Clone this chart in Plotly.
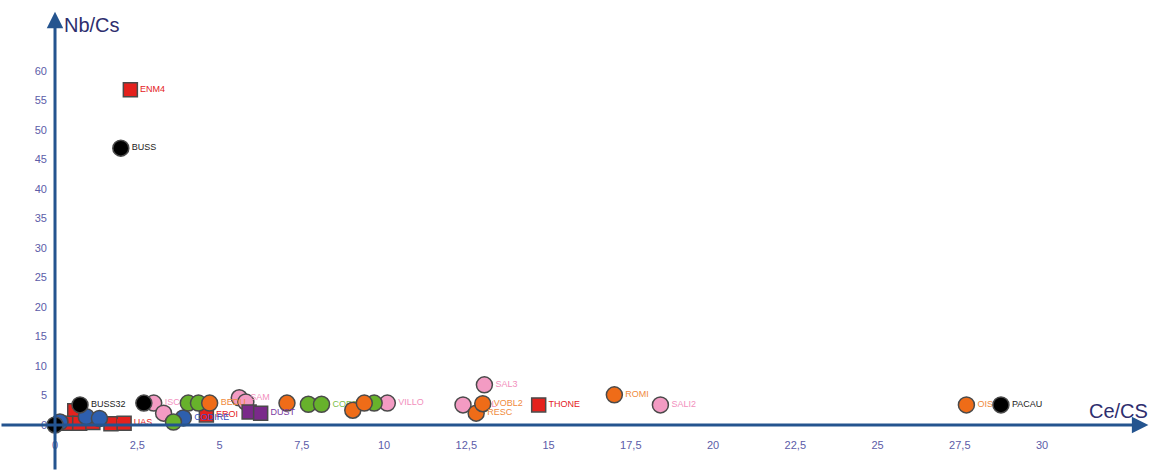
import plotly.graph_objects as go

# Ce/Cs (x) and Nb/Cs (y) ratios, one group per symbol colour
black_x = [0.0, 0.76, 2.0, 2.7, 28.75]
black_y = [0.0, 3.4, 46.9, 3.7, 3.4]
black_lab = ["", "BUSS32", "BUSS", "", "PACAU"]

red_x = [2.29, 0.6, 0.35, 0.75, 1.15, 1.7, 2.1, 4.6, 14.7]
red_y = [56.8, 2.4, 0.3, 0.3, 0.4, 0.2, 0.3, 1.7, 3.4]
red_lab = ["ENM4", "", "", "", "MERL", "", "UAS", "EROI", "THONE"]

blue_x = [0.15, 0.95, 1.35, 3.9]
blue_y = [0.5, 1.4, 1.1, 1.2]
blue_lab = ["", "", "", "CODIRE"]

pink_x = [3.0, 3.3, 5.6, 5.8, 10.1, 12.4, 13.05, 18.4]
pink_y = [3.7, 2.0, 4.6, 3.9, 3.7, 3.4, 6.8, 3.4]
pink_lab = ["ISCO", "", "SAM", "", "VILLO", "CALL", "SAL3", "SALI2"]

green_x = [3.6, 4.05, 4.36, 7.7, 8.1, 9.7]
green_y = [0.5, 3.7, 3.7, 3.5, 3.5, 3.7]
green_lab = ["", "", "", "", "CORB4", ""]

orange_x = [4.7, 7.05, 9.05, 9.4, 12.8, 13.0, 17.0, 27.7]
orange_y = [3.7, 3.7, 2.5, 3.7, 2.0, 3.6, 5.1, 3.4]
orange_lab = ["BEDU", "", "", "", "RESC", "VOBL2", "ROMI", "OISE"]

purple_x = [5.9, 6.25]
purple_y = [2.2, 2.0]
purple_lab = ["", "DUST"]

x_ticks = [0, 2.5, 5, 7.5, 10, 12.5, 15, 17.5, 20, 22.5, 25, 27.5, 30]
y_ticks = [0, 5, 10, 15, 20, 25, 30, 35, 40, 45, 50, 55, 60]

X_RANGE = [-1.672, 33.28]
Y_RANGE = [-7.8, 72.0]
AXIS_COLOR = "#24548f"
TICK_COLOR = "#5c5ca8"
TITLE_COLOR = "#2e2e6e"

fig = go.Figure()

groups = [
    (red_x, red_y, red_lab, "#e4211d", "square", "#e4211d"),
    (blue_x, blue_y, blue_lab, "#2e5fae", "circle", "#3a4fc0"),
    (pink_x, pink_y, pink_lab, "#f39bc3", "circle", "#f28fbd"),
    (green_x, green_y, green_lab, "#67b22b", "circle", "#7cc04a"),
    (orange_x, orange_y, orange_lab, "#ef6c18", "circle", "#f08a3c"),
    (purple_x, purple_y, purple_lab, "#7a2a8a", "square", "#7a3aa0"),
    (black_x, black_y, black_lab, "#000000", "circle", "#222222"),
]
for gx, gy, glab, col, sym, tcol in groups:
    fig.add_trace(go.Scatter(
        x=gx, y=gy, mode="markers+text", text=glab,
        textposition="middle right",
        textfont=dict(size=9, color=tcol, family="Liberation Sans, Arial"),
        marker=dict(symbol=sym, size=16 if sym == "circle" else 14,
                    color=col, line=dict(color="#4a4a4a", width=1.5)),
        showlegend=False, cliponaxis=False,
    ))

# Axis lines with arrow heads, crossing at the origin
fig.add_annotation(x=0, y=70.0, ax=0, ay=Y_RANGE[0], xref="x", yref="y",
                   axref="x", ayref="y", showarrow=True, arrowhead=2,
                   arrowsize=1.1, arrowwidth=3, arrowcolor=AXIS_COLOR, text="")
fig.add_annotation(x=X_RANGE[1] - 0.05, y=0, ax=X_RANGE[0], ay=0, xref="x", yref="y",
                   axref="x", ayref="y", showarrow=True, arrowhead=2,
                   arrowsize=1.1, arrowwidth=3, arrowcolor=AXIS_COLOR, text="")

fig.add_annotation(x=0.2, y=67.8, xref="x", yref="y", text="Nb/Cs",
                   showarrow=False, xanchor="left", yanchor="middle",
                   font=dict(size=20, color=TITLE_COLOR, family="Liberation Sans, Arial"))
fig.add_annotation(x=X_RANGE[1], y=2.3, xref="x", yref="y", text="Ce/CS",
                   showarrow=False, xanchor="right", yanchor="middle",
                   font=dict(size=20, color=TITLE_COLOR, family="Liberation Sans, Arial"))

x0_frac = -X_RANGE[0] / (X_RANGE[1] - X_RANGE[0])
y0_frac = -Y_RANGE[0] / (Y_RANGE[1] - Y_RANGE[0])

fig.update_layout(
    width=1150, height=471,
    margin=dict(l=0, r=0, t=0, b=0),
    paper_bgcolor="white", plot_bgcolor="white",
    separators=", ",
    font=dict(family="Liberation Sans, Arial"),
    xaxis=dict(range=X_RANGE, showgrid=False, zeroline=False, showline=False,
               tickvals=x_ticks, ticks="", anchor="free", position=y0_frac,
               tickfont=dict(size=11, color=TICK_COLOR), ticklabelstandoff=12),
    yaxis=dict(range=Y_RANGE, showgrid=False, zeroline=False, showline=False,
               tickvals=y_ticks, ticks="", anchor="free", position=x0_frac,
               tickfont=dict(size=11, color=TICK_COLOR), ticklabelstandoff=8),
)

fig.write_html("out.html")
